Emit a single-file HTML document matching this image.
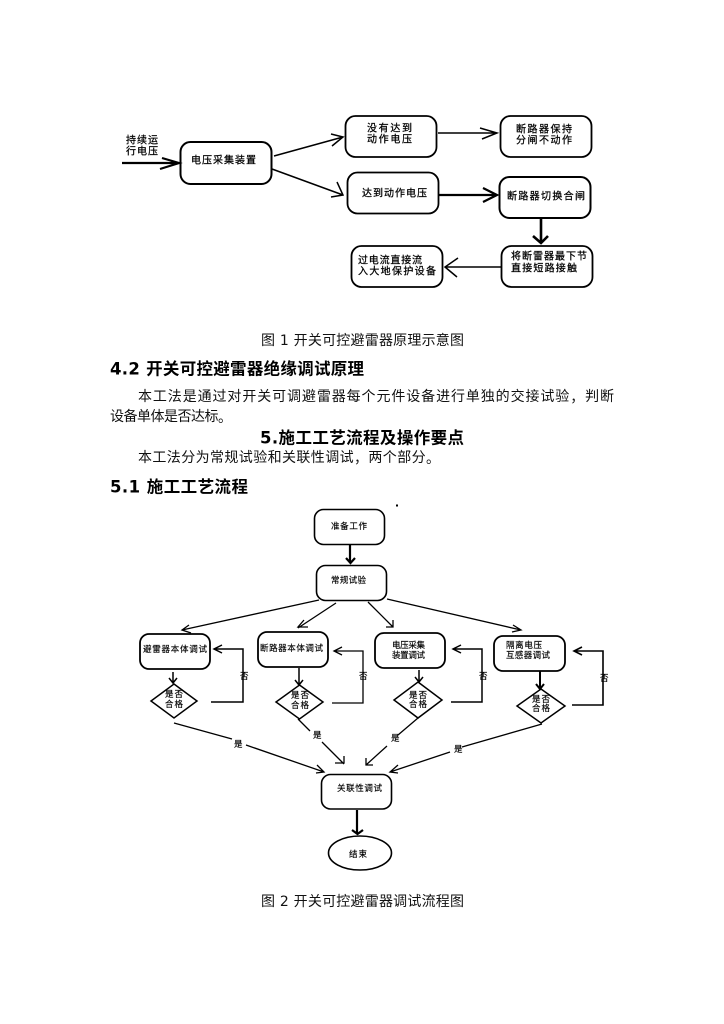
<!DOCTYPE html>
<html lang="zh">
<head>
<meta charset="utf-8">
<title>开关可控避雷器</title>
<style>
html,body{margin:0;padding:0;background:#fff;width:724px;height:1024px;overflow:hidden}
svg{display:block}
text{font-family:"DejaVu Sans","WenQuanYi Zen Hei","Noto Sans CJK SC",sans-serif;fill:#000;dominant-baseline:central;transform:translateY(2px)}
.t{font-size:14px;fill:#111}
.b{font-size:16.500px;font-weight:bold}
.d{font-size:10px;fill:#000;stroke:#000;stroke-width:.25px}
.s{font-size:8.500px;fill:#000;stroke:#000;stroke-width:.15px}
.c{font-family:"Noto Sans CJK TC",sans-serif}
.n{fill:#fff;stroke:#000;stroke-width:2}
.l{fill:none;stroke:#000;stroke-width:1.5}
.k{fill:none;stroke:#000;stroke-width:2.2}
.h{fill:none;stroke:#000;stroke-width:1.3}
</style>
</head>
<body>
<svg width="724" height="1024" viewBox="0 0 724 1024" xmlns="http://www.w3.org/2000/svg">
<defs><filter id="f" x="-2%" y="-2%" width="104%" height="104%"><feGaussianBlur stdDeviation="0.35"/></filter></defs>
<!-- Figure 1 -->
<g filter="url(#f)">
<rect class="n" x="180.500" y="142" width="91" height="42" rx="10"/>
<rect class="n" x="345.500" y="116" width="91" height="41" rx="10" style="stroke-width:1.8"/>
<rect class="n" x="500.500" y="116" width="91" height="41" rx="10" style="stroke-width:1.8"/>
<rect class="n" x="347.500" y="172.500" width="91" height="41" rx="10" style="stroke-width:1.8"/>
<rect class="n" x="499.500" y="177" width="91" height="41" rx="10"/>
<rect class="n" x="501.500" y="246" width="91" height="41" rx="10" style="stroke-width:1.8"/>
<rect class="n" x="351.500" y="246" width="91" height="41" rx="10" style="stroke-width:1.8"/>

<path class="k" d="M122 163H178M162 158L179 163L160 169"/>
<path class="l" d="M274 156L343 137M331 134L343 137L332 146"/>
<path class="l" d="M272 169L343 195M337 182L343 195L331 197"/>
<path class="l" d="M438 133H497M480 128L497 133L482 139"/>
<path class="k" d="M439 195H497M483 188L497 195L483 202"/>
<path class="k" d="M541 218V243M533 236L541 243L548 236" style="stroke-width:2.6"/>
<path class="l" d="M501 267H445M458 258L445 267L457 277"/>

<text class="d" x="126" y="139" textLength="32">持续运</text>
<text class="d" x="126" y="150" textLength="32">行电压</text>
<text class="d" x="191" y="159" textLength="65">电压采集装置</text>
<text class="d" x="367" y="127" textLength="45">没有达到</text>
<text class="d" x="367" y="138" textLength="45">动作电压</text>
<text class="d" x="516" y="128" textLength="56">断路器保持</text>
<text class="d" x="516" y="139" textLength="56">分闸不动作</text>
<text class="d" x="362" y="192" textLength="65">达到动作电压</text>
<text class="d" x="507" y="195" textLength="78">断路器切换合闸</text>
<text class="d" x="511" y="255" textLength="76">将断雷器最下节</text>
<text class="d" x="511" y="267" textLength="66">直接短路接触</text>
<text class="d" x="358" y="259" textLength="64">过电流直接流</text>
<text class="d" x="358" y="270" textLength="78">入大地保护设备</text>
</g>

<!-- Text -->
<text class="t" x="261" y="339" textLength="203">图 1 开关可控避雷器原理示意图</text>
<text class="b" x="110" y="367" textLength="254">4.2 开关可控避雷器绝缘调试原理</text>
<text class="t" x="138" y="395" textLength="476">本工法是通过对开关可调避雷器每个元件设备进行单独的交接试验<tspan class="c">，</tspan>判断</text>
<text class="t" x="110" y="415" textLength="122">设备单体是否达标<tspan class="c">。</tspan></text>
<text class="b" x="260" y="436" textLength="204">5.施工工艺流程及操作要点</text>
<text class="t" x="138" y="456" textLength="302">本工法分为常规试验和关联性调试<tspan class="c">，</tspan>两个部分<tspan class="c">。</tspan></text>
<text class="b" x="110" y="485" textLength="138">5.1 施工工艺流程</text>
<text class="t" x="261" y="900" textLength="203">图 2 开关可控避雷器调试流程图</text>

<!-- Figure 2 -->
<g filter="url(#f)">
<rect x="396" y="504.500" width="2" height="2" fill="#000"/>
<rect class="n" x="314.500" y="509.500" width="70" height="35" rx="9" style="stroke-width:1.6"/>
<rect class="n" x="316.500" y="565.500" width="70" height="35" rx="9" style="stroke-width:1.6"/>
<path class="k" d="M350 544V563M346 558L350.500 563L355 558"/>
<path class="h" d="M319 600L182 630M189 625L182 630L191 633"/>
<path class="h" d="M336 603L298 628M308 627H298L304 620"/>
<path class="h" d="M368 602L393 627M393 620V627H386"/>
<path class="h" d="M387 599L521 630M513 625L521 630L512 632"/>

<rect class="n" x="140" y="634" width="70" height="35" rx="9" style="stroke-width:1.8"/>
<rect class="n" x="258" y="632" width="70" height="35" rx="9" style="stroke-width:1.8"/>
<rect class="n" x="375" y="633" width="70" height="35" rx="9" style="stroke-width:1.8"/>
<rect class="n" x="494" y="636" width="71" height="35" rx="9" style="stroke-width:1.8"/>

<polygon class="n" style="stroke-width:1.5" points="174,684 197,701 174,718 151,701"/>
<polygon class="n" style="stroke-width:1.5" points="299.500,685 323,702 299.500,719 276,702"/>
<polygon class="n" style="stroke-width:1.5" points="418,682 442,700 418,718 394,700"/>
<polygon class="n" style="stroke-width:1.5" points="541,689 565,706 541,723 517,706"/>

<path class="l" d="M173 672V683M169 678L173 683L177 678"/>
<path class="l" d="M299 668V685M295 680L299 685L303 680"/>
<path class="l" d="M419 670V682M415 677L419 682L423 677"/>
<path class="k" d="M540 671V689M536 684L540 689L544 684" style="stroke-width:2"/>

<path class="l" d="M211 702H243V649H215M222 645L214 649L222 653"/>
<path class="h" d="M332 703H363V651H334M342 647L334 651L342 655"/>
<path class="l" d="M451 702H482V649H453M461 645L453 649L461 653"/>
<path class="k" d="M572 705H603V651H574M582 647L574 651L582 655" style="stroke-width:1.6"/>

<path class="h" d="M174 723L232 739M246 745L324 772M317 765L324 772L316 773"/>
<path class="h" d="M298 719L310 731M322 742L344 764M335 763H344V756"/>
<path class="h" d="M418 718L398 735M387 746L366 765M366 758V765H373"/>
<path class="h" d="M542 724L462 747M450 752L390 772M398 765L390 772L398 773"/>

<rect class="n" x="321.500" y="774.500" width="70" height="34.500" rx="9" style="stroke-width:1.6"/>
<path class="k" d="M357 810V833M352 830L357.500 834L363 830"/>
<ellipse class="n" cx="360" cy="853" rx="31.500" ry="17" style="stroke-width:1.6"/>

<text class="s" x="331" y="525" textLength="36">准备工作</text>
<text class="s" x="331" y="579" textLength="35">常规试验</text>
<text class="s" x="143" y="648" textLength="64">避雷器本体调试</text>
<text class="s" x="260" y="647" textLength="63">断路器本体调试</text>
<text class="s" x="392" y="644" textLength="33">电压采集</text>
<text class="s" x="392" y="654" textLength="33">装置调试</text>
<text class="s" x="506" y="644" textLength="36">隔离电压</text>
<text class="s" x="506" y="654" textLength="44">互感器调试</text>
<text class="s" x="165" y="693" textLength="18">是否</text>
<text class="s" x="165" y="703" textLength="18">合格</text>
<text class="s" x="291" y="694" textLength="18">是否</text>
<text class="s" x="291" y="704" textLength="18">合格</text>
<text class="s" x="409" y="694" textLength="18">是否</text>
<text class="s" x="409" y="703" textLength="18">合格</text>
<text class="s" x="532" y="698" textLength="18">是否</text>
<text class="s" x="532" y="707" textLength="18">合格</text>
<text class="s" x="240" y="675">否</text>
<text class="s" x="359" y="675">否</text>
<text class="s" x="479" y="675">否</text>
<text class="s" x="600" y="677">否</text>
<text class="s" x="234" y="743">是</text>
<text class="s" x="313" y="734">是</text>
<text class="s" x="391" y="737">是</text>
<text class="s" x="454" y="748">是</text>
<text class="s" x="337" y="787" textLength="45">关联性调试</text>
<text class="s" x="349" y="853" textLength="18">结束</text>
</g>
</svg>
</body>
</html>
